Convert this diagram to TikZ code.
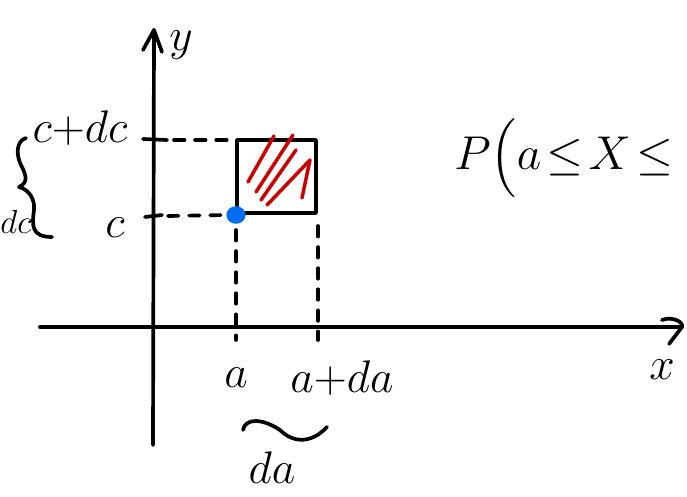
\documentclass[tikz,border=0pt]{standalone}
\usepackage{fix-cm}
\usepackage{amsmath}
\usetikzlibrary{calc}
\begin{document}
\begin{tikzpicture}[x=0.02cm,y=-0.02cm,
  ink/.style={line width=2.1pt,line cap=round,line join=round},
  dashink/.style={line width=2.1pt,line cap=round,dash pattern=on 6pt off 6pt},
  lbl/.style={inner sep=0pt,font=\fontsize{26}{30}\selectfont},
  smalllbl/.style={inner sep=0pt,font=\fontsize{19}{23}\selectfont},
  biglbl/.style={inner sep=0pt,font=\fontsize{27}{32}\selectfont}]
\useasboundingbox (0,0) rectangle (687,497);
% axes
\coordinate (ybot) at (153,445);
\coordinate (ytop) at (154,30);
\coordinate (xleft) at (40,327);
\coordinate (xright) at (682,327);
\draw[ink] (ybot) -- (ytop);
\draw[ink] (143,50) -- (ytop) -- (162,52);
\draw[ink] (xleft) -- (xright);
\draw[ink] (662,320) .. controls (672,316) and (684,322) .. (xright) -- (669,344);
\node[lbl] (ylab) at (181,45) {$y$};
\node[lbl] (xlab) at (662,370) {$x$};
% ticks on y axis
\coordinate (t1a) at (143,139);
\coordinate (t1b) at (167,140);
\coordinate (t2a) at (145,217);
\coordinate (t2b) at (162,215);
\draw[ink] (t1a) -- (t1b);
\draw[ink] (t2a) -- (t2b);
% square
\coordinate (sq1) at (237,140);
\coordinate (sq2) at (316,213);
\draw[ink] (sq1) rectangle (sq2);
% dashed guides
\draw[dashink] (174,140) -- (228,140);
\draw[dashink] (168,216) -- (226,215);
\draw[dashink] (236,230) -- (236,340);
\draw[dashink] (318,226) -- (318,340);
% hatching
\begin{scope}[red!80!black,line width=2pt,line cap=round,line join=round]
\draw (248,182) -- (274,136);
\draw (256,192) -- (293,135);
\draw (261,200) -- (296,150);
\draw (267,205) -- (310,160) -- (302,198);
\end{scope}
% blue dot
\fill[blue!55!cyan!95!black] (236,215) ellipse (5.5pt and 5pt);
% labels
\node[lbl] (cdc) at (80,128) {$c{+}dc$};
\node[lbl] (c) at (115,228) {$c$};
\node[lbl] (a) at (236,378) {$a$};
\node[lbl] (ada) at (342,378) {$a{+}da$};
\node[lbl] (da) at (272,468) {$da$};
% wavy brace under
\draw[ink] (243,430) .. controls (245,418) and (262,418) .. (280,430)
  .. controls (292,442) and (310,445) .. (327,427);
% left brace
\draw[ink] (26,138) .. controls (16,141) and (16,155) .. (21,165)
  .. controls (26,175) and (29,182) .. (19,187)
  .. controls (30,190) and (35,200) .. (34,210)
  .. controls (32,225) and (31,237) .. (52,237);
\node[smalllbl,anchor=west] (dc) at (0,222) {$dc$};
% probability
\node[biglbl,anchor=west] (prob) at (454,158) {$\thickmuskip=2mu P\Bigl(a\le X\le$};
\end{tikzpicture}
\end{document}
